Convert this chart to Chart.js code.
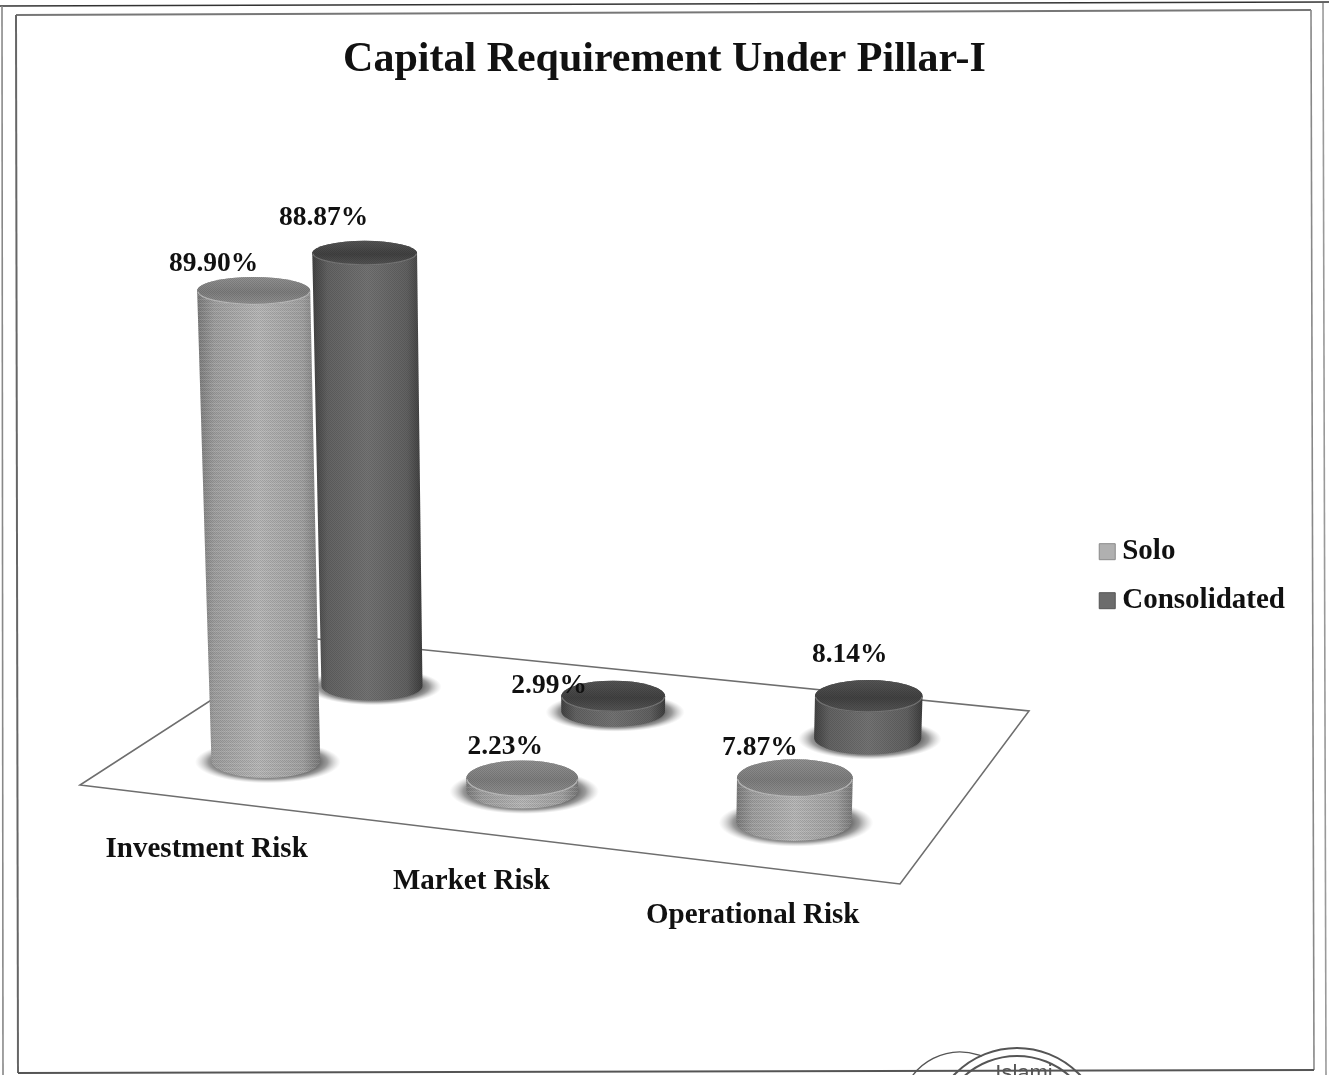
<!DOCTYPE html>
<html><head><meta charset="utf-8">
<style>html,body{margin:0;padding:0;background:#fff}canvas{display:block}</style>
<script src="https://cdn.jsdelivr.net/npm/chart.js@4"></script>
</head><body>
<canvas id="c" width="1329" height="1075"></canvas>
<script>
const categories = ['Investment Risk', 'Market Risk', 'Operational Risk'];
const soloValues = [89.90, 2.23, 7.87];
const consolidatedValues = [88.87, 2.99, 8.14];
const seriesNames = ['Solo', 'Consolidated'];
const chartTitle = 'Capital Requirement Under Pillar-I';

const SERIF = '"Liberation Serif", serif';
/* floor outline on the page, front-left, front-right, back-right, back-left */
const FLOOR = [[80,785],[900,884],[1029,711],[307,638]];
const SERIES_DEPTH = [0.25, 0.75];
const RU = 0.066, RV = 0.1, PX_PER_UNIT = 5.35, BASE_DROP = 2.5;
const VANISH_X = 570, FLARE = 0.000085, FLATTEN = 0.0004;
const LABEL_NUDGE = [[[-40,-27],[-17,-31.5],[-35,-30.5]],[[-41,-35],[-64,-10.5],[-19,-41.5]]];
const PAINT = [
  {side:['#7c7c7c','#a0a0a0','#b8b8b8','#a2a2a2','#7a7a7a'], top:['#7f7f7f','#929292'], rim:'#b4b4b4'},
  {side:['#434343','#646464','#747474','#626262','#3f3f3f'], top:['#424242','#565656'], rim:'#727272'}
];

const [[x0,y0],[x1,y1],[x2,y2],[x3,y3]] = FLOOR;
const sx=x0-x1+x2-x3, sy=y0-y1+y2-y3, dx1=x1-x2, dx2=x3-x2, dy1=y1-y2, dy2=y3-y2;
const det=dx1*dy2-dx2*dy1, G=(sx*dy2-dx2*sy)/det, H=(dx1*sy-sx*dy1)/det;
function project(u,v){
  const w=1+G*u+H*v;
  return {x:((x1-x0+G*x1)*u+(x3-x0+H*x3)*v+x0)/w, y:((y1-y0+G*y1)*u+(y3-y0+H*y3)*v+y0)/w, w};
}
function footprint(u,v){
  const a=project(u+RU,v), b=project(u-RU,v), c=project(u,v+RV), d=project(u,v-RV);
  return {rx:Math.hypot((a.x-b.x)/2,(c.x-d.x)/2), ry:Math.hypot((a.y-b.y)/2,(c.y-d.y)/2)};
}
function dither(kind){
  const c=document.createElement('canvas'); c.width=4; c.height=4;
  const g=c.getContext('2d');
  g.fillStyle='rgba(0,0,0,0.12)';
  g.fillRect(0,0,1,1); g.fillRect(2,0,1,1); g.fillRect(1,1,1,1); g.fillRect(3,1,1,1);
  g.fillRect(0,2,1,1); g.fillRect(2,2,1,1); g.fillRect(1,3,1,1); g.fillRect(3,3,1,1);
  if(kind===0){ g.fillStyle='rgba(255,255,255,0.10)'; g.fillRect(0,3,4,1); }
  return c;
}
function sideGradient(ctx,left,right,stops){
  const g=ctx.createLinearGradient(left,0,right,0);
  [0,.14,.5,.86,1].forEach((p,i)=>g.addColorStop(p,stops[i]));
  return g;
}
function drawCylinder(ctx,b,fp,h,ds){
  const paint=PAINT[ds], flare=h*FLARE;
  const tx=b.x+(b.x-VANISH_X)*flare, ty=b.y-h, trx=fp.rx*(1+flare), try_=fp.ry*(1-h*FLATTEN);
  /* ground shadow */
  ctx.save();
  ctx.translate(b.x+2,b.y+1); ctx.scale(1,(fp.ry*1.25)/(fp.rx*1.34));
  const sg=ctx.createRadialGradient(0,0,fp.rx*.85,0,0,fp.rx*1.34);
  sg.addColorStop(0,'rgba(60,60,60,.95)'); sg.addColorStop(.5,'rgba(100,100,100,.65)'); sg.addColorStop(1,'rgba(170,170,170,0)');
  ctx.fillStyle=sg; ctx.beginPath(); ctx.arc(0,0,fp.rx*1.34,0,Math.PI*2); ctx.fill();
  ctx.restore();
  /* wall */
  const wall=new Path2D();
  wall.moveTo(tx-trx,ty);
  wall.lineTo(b.x-fp.rx,b.y);
  wall.ellipse(b.x,b.y,fp.rx,fp.ry,0,Math.PI,0,true);
  wall.lineTo(tx+trx,ty);
  wall.ellipse(tx,ty,trx,try_,0,0,Math.PI,true);
  wall.closePath();
  ctx.fillStyle=sideGradient(ctx,Math.min(tx-trx,b.x-fp.rx),Math.max(tx+trx,b.x+fp.rx),paint.side);
  ctx.fill(wall);
  ctx.fillStyle=ctx.createPattern(dither(ds),'repeat');
  ctx.fill(wall);
  /* cap */
  const cap=new Path2D();
  cap.ellipse(tx,ty,trx,try_,0,0,Math.PI*2);
  const cg=ctx.createLinearGradient(0,ty-try_,0,ty+try_);
  cg.addColorStop(0,paint.top[1]); cg.addColorStop(.55,paint.top[0]); cg.addColorStop(1,paint.top[1]);
  ctx.fillStyle=cg; ctx.fill(cap);
  ctx.fillStyle=ctx.createPattern(dither(1),'repeat'); ctx.fill(cap);
  ctx.strokeStyle=paint.rim; ctx.lineWidth=1.2;
  ctx.beginPath(); ctx.ellipse(tx,ty,trx-.5,try_-.5,0,.05,Math.PI-.05); ctx.stroke();
  return {x:tx,y:ty};
}

const tops=[[],[]];
const scene={
  id:'scene',
  beforeDatasetsDraw(chart){
    const ctx=chart.ctx;
    ctx.save();
    ctx.fillStyle='#fff'; ctx.strokeStyle='#6e6e6e'; ctx.lineWidth=1.6; ctx.lineJoin='miter';
    ctx.beginPath(); FLOOR.forEach((p,i)=>i?ctx.lineTo(p[0],p[1]):ctx.moveTo(p[0],p[1])); ctx.closePath();
    ctx.fill(); ctx.stroke();
    ctx.restore();
  },
  beforeDatasetDraw(chart,args){
    const ctx=chart.ctx, area=chart.chartArea, xs=chart.scales.x, ys=chart.scales.y;
    const unit=Math.abs(ys.getPixelForValue(1)-ys.getPixelForValue(0));
    const ds=args.index, v=SERIES_DEPTH[ds];
    ctx.save();
    args.meta.data.forEach((el,i)=>{
      const u=(xs.getPixelForValue(i)-area.left)/area.width;
      const p=project(u,v), b={x:p.x,y:p.y+BASE_DROP,w:p.w}, fp=footprint(u,v);
      const h=Math.abs(el.base-el.y)/unit*PX_PER_UNIT/b.w;
      tops[ds][i]=drawCylinder(ctx,b,fp,h,ds);
    });
    ctx.restore();
    return false;
  },
  afterDatasetsDraw(chart){
    const ctx=chart.ctx, xs=chart.scales.x, area=chart.chartArea;
    ctx.save();
    ctx.fillStyle='#111'; ctx.textAlign='center'; ctx.textBaseline='middle';
    ctx.font='bold 27.5px '+SERIF;
    chart.data.datasets.forEach((d,ds)=>d.data.forEach((val,i)=>{
      const t=tops[ds][i], n=LABEL_NUDGE[ds][i];
      ctx.fillText(val.toFixed(2)+'%',t.x+n[0],t.y+n[1]);
    }));
    ctx.font='bold 29px '+SERIF;
    xs.getLabels().forEach((name,i)=>{
      const u=(xs.getPixelForValue(i)-area.left)/area.width, p=project(u,0);
      ctx.fillText(name,p.x,p.y+49);
    });
    ctx.restore();
  },
  beforeDraw(chart){
    const ctx=chart.ctx;
    const seg=(a,b,c,d,col,lw)=>{ctx.strokeStyle=col;ctx.lineWidth=lw;ctx.beginPath();ctx.moveTo(a,b);ctx.lineTo(c,d);ctx.stroke();};
    ctx.save();
    ctx.fillStyle='#fff'; ctx.fillRect(0,0,1329,1075);
    seg(0,6,1329,2,'#333',1.6);
    seg(2,6,3,1075,'#888',1.6);
    seg(1323,3,1326,1075,'#999',1.6);
    seg(16,15,1311,10,'#777',2);
    seg(16,15,18,1073,'#666',2);
    seg(1311,10,1314,1070,'#888',1.6);
    seg(18,1073,1314,1070,'#555',2);
    /* stamp */
    ctx.strokeStyle='#555'; ctx.lineWidth=2;
    ctx.beginPath(); ctx.arc(1017,1135,87,0,Math.PI*2); ctx.stroke();
    ctx.beginPath(); ctx.arc(1017,1135,79,0,Math.PI*2); ctx.stroke();
    ctx.lineWidth=1.4;
    ctx.beginPath(); ctx.arc(960,1111,59,Math.PI*1.1,Math.PI*1.62); ctx.stroke();
    ctx.fillStyle='#555'; ctx.font='22px "Liberation Sans", sans-serif'; ctx.textAlign='center';
    ctx.fillText('Islami',1024,1080);
    ctx.restore();
  }
};

new Chart(document.getElementById('c'),{
  type:'bar',
  data:{labels:categories,datasets:[
    {label:seriesNames[0],data:soloValues,backgroundColor:'#b0b0b0',borderColor:'#8a8a8a',borderWidth:1},
    {label:seriesNames[1],data:consolidatedValues,backgroundColor:'#6c6c6c',borderColor:'#555',borderWidth:1}
  ]},
  options:{
    responsive:false,animation:false,devicePixelRatio:1,
    layout:{padding:{left:34,right:34,bottom:8}},
    scales:{x:{display:false},y:{display:false,min:0,max:100}},
    plugins:{
      tooltip:{enabled:false},
      title:{display:true,text:chartTitle,color:'#111',font:{family:SERIF,size:42,weight:'bold'},padding:{top:35,bottom:0}},
      legend:{position:'right',align:'center',fullSize:false,onClick:null,
        labels:{color:'#111',usePointStyle:true,pointStyle:'rect',boxWidth:1,boxHeight:16,padding:20,font:{family:SERIF,size:29,weight:'bold'}}}
    }
  },
  plugins:[scene]
});
</script>
</body></html>
